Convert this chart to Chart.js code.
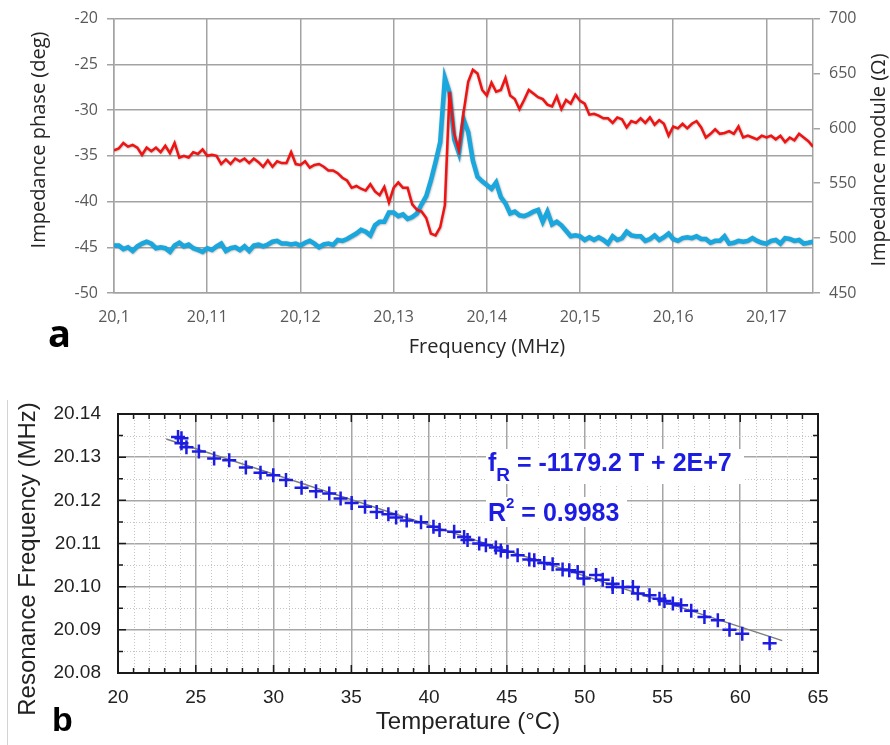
<!DOCTYPE html>
<html>
<head>
<meta charset="utf-8">
<script src="https://cdn.jsdelivr.net/npm/chart.js@4.4.1/dist/chart.umd.min.js"></script>
<style>
  html, body { margin: 0; padding: 0; background: #fff; }
  body { width: 890px; height: 745px; position: relative; overflow: hidden; }
  #chartA { position: absolute; left: 0; top: 0; }
  #chartB { position: absolute; left: 0; top: 375px; }
</style>
</head>
<body>
<canvas id="chartA" width="890" height="375"></canvas>
<canvas id="chartB" width="890" height="370"></canvas>
<script>
// panel a: impedance sweep around resonance
const freqMHz = [
  20.1000, 20.1005, 20.1010, 20.1015, 20.1020, 20.1025, 20.1030, 20.1035, 20.1040, 20.1045,
  20.1050, 20.1055, 20.1060, 20.1065, 20.1070, 20.1075, 20.1080, 20.1085, 20.1090, 20.1095,
  20.1100, 20.1105, 20.1110, 20.1115, 20.1120, 20.1125, 20.1130, 20.1135, 20.1140, 20.1145,
  20.1150, 20.1155, 20.1160, 20.1165, 20.1170, 20.1175, 20.1180, 20.1185, 20.1190, 20.1195,
  20.1200, 20.1205, 20.1210, 20.1215, 20.1220, 20.1225, 20.1230, 20.1235, 20.1240, 20.1245,
  20.1250, 20.1255, 20.1260, 20.1265, 20.1270, 20.1275, 20.1280, 20.1285, 20.1290, 20.1295,
  20.1300, 20.1305, 20.1310, 20.1315, 20.1320, 20.1325, 20.1330, 20.1335, 20.1340, 20.1345,
  20.1350, 20.1355, 20.1360, 20.1365, 20.1370, 20.1375, 20.1380, 20.1385, 20.1390, 20.1395,
  20.1400, 20.1405, 20.1410, 20.1415, 20.1420, 20.1425, 20.1430, 20.1435, 20.1440, 20.1445,
  20.1450, 20.1455, 20.1460, 20.1465, 20.1470, 20.1475, 20.1480, 20.1485, 20.1490, 20.1495,
  20.1500, 20.1505, 20.1510, 20.1515, 20.1520, 20.1525, 20.1530, 20.1535, 20.1540, 20.1545,
  20.1550, 20.1555, 20.1560, 20.1565, 20.1570, 20.1575, 20.1580, 20.1585, 20.1590, 20.1595,
  20.1600, 20.1605, 20.1610, 20.1615, 20.1620, 20.1625, 20.1630, 20.1635, 20.1640, 20.1645,
  20.1650, 20.1655, 20.1660, 20.1665, 20.1670, 20.1675, 20.1680, 20.1685, 20.1690, 20.1695,
  20.1700, 20.1705, 20.1710, 20.1715, 20.1720, 20.1725, 20.1730, 20.1735, 20.1740, 20.1745,
  20.1750
];

const phaseDeg = [
  -34.4, -34.2, -33.6, -34.0, -33.8, -34.1, -34.9, -34.1, -34.5, -34.1,
  -34.6, -33.9, -34.7, -33.6, -35.2, -35.0, -35.2, -34.6, -34.8, -34.3,
  -35.0, -34.9, -35.0, -35.9, -35.4, -35.9, -35.3, -35.6, -35.3, -35.8,
  -35.3, -35.7, -36.2, -35.5, -36.2, -35.6, -35.8, -35.8, -34.6, -35.9,
  -36.0, -35.6, -36.3, -36.0, -35.9, -36.2, -36.6, -36.6, -36.9, -37.4,
  -37.7, -38.5, -38.3, -38.6, -38.8, -38.1, -38.9, -39.3, -38.4, -40.1,
  -38.5, -37.9, -38.5, -38.5, -40.3, -40.9, -41.1, -41.8, -43.5, -43.7,
  -42.8, -40.4, -28.0, -32.6, -34.4, -30.3, -26.9, -25.6, -26.0, -27.8,
  -28.4, -27.0, -28.0, -27.8, -26.5, -28.4, -28.8, -29.9, -28.9, -27.8,
  -28.2, -28.6, -28.8, -29.4, -29.6, -28.5, -29.9, -28.9, -29.3, -28.3,
  -29.0, -29.3, -30.5, -30.4, -30.6, -30.9, -30.9, -31.4, -30.8, -31.0,
  -31.9, -31.2, -31.4, -30.9, -31.4, -30.8, -31.6, -31.1, -31.5, -32.8,
  -31.8, -32.0, -31.5, -32.0, -31.5, -31.2, -31.9, -33.0, -32.6, -32.1,
  -32.6, -32.5, -32.3, -32.6, -31.8, -33.0, -32.8, -33.0, -33.2, -32.8,
  -33.0, -32.8, -33.2, -32.8, -33.5, -33.0, -33.3, -32.6, -33.0, -33.4,
  -34.0
];

const moduleOhm = [
  493.3, 493.3, 490.0, 491.7, 488.3, 492.5, 495.0, 496.7, 495.0, 490.8,
  491.7, 490.8, 487.5, 493.3, 495.8, 492.5, 494.2, 490.8, 489.2, 487.5,
  490.8, 489.2, 492.5, 495.0, 488.3, 490.8, 491.7, 489.2, 492.5, 488.3,
  493.3, 494.2, 492.5, 494.2, 496.7, 497.5, 495.0, 495.0, 494.2, 495.0,
  493.3, 495.8, 497.5, 495.0, 491.7, 494.2, 495.0, 493.8, 498.3, 497.5,
  499.2, 501.7, 504.2, 507.5, 505.8, 502.5, 511.7, 515.0, 515.0, 523.3,
  523.3, 520.0, 521.7, 517.5, 519.2, 522.5, 530.8, 538.3, 552.5, 569.2,
  587.5, 645.8, 632.5, 590.0, 577.5, 608.3, 596.7, 570.8, 555.8, 551.7,
  548.3, 545.0, 550.8, 537.5, 531.7, 522.5, 524.2, 520.8, 520.0, 521.7,
  524.2, 525.8, 515.0, 524.2, 512.5, 515.0, 511.7, 506.7, 501.7, 502.5,
  501.7, 498.3, 500.8, 498.3, 500.8, 498.3, 495.0, 501.7, 498.3, 500.0,
  505.8, 502.5, 501.7, 501.7, 497.5, 499.2, 502.5, 498.3, 500.8, 504.2,
  499.2, 497.5, 500.0, 500.8, 500.0, 501.7, 499.2, 499.2, 495.8, 497.5,
  497.5, 501.7, 495.0, 495.8, 497.5, 496.7, 497.5, 500.0, 497.5, 495.8,
  495.0, 497.5, 498.3, 495.0, 500.0, 499.2, 497.5, 498.3, 495.0, 495.8,
  496.7
];

// panel b: resonance frequency vs temperature
const tempC = [
  23.86, 24.08, 24.08, 24.40, 25.20, 26.18, 27.15, 28.22, 29.16, 29.98,
  30.80, 31.80, 32.73, 33.58, 34.31, 35.02, 35.88, 36.63, 37.38, 37.88,
  38.56, 39.48, 40.28, 40.67, 41.61, 42.25, 42.47, 43.22, 43.65, 44.29,
  44.61, 45.04, 45.69, 46.44, 46.76, 47.40, 47.94, 48.58, 49.01, 49.55,
  49.94, 50.73, 51.16, 51.80, 51.80, 52.45, 53.10, 53.42, 54.17, 54.81,
  55.13, 55.67, 56.20, 56.85, 57.70, 58.56, 59.31, 60.13, 61.89
];
const resFreqMHz = [
  20.1347, 20.1344, 20.1332, 20.1323, 20.1313, 20.1297, 20.1293, 20.1276, 20.1264, 20.1258,
  20.1247, 20.1229, 20.1221, 20.1216, 20.1204, 20.1194, 20.1185, 20.1173, 20.1168, 20.1160,
  20.1153, 20.1149, 20.1139, 20.1131, 20.1127, 20.1115, 20.1108, 20.1100, 20.1096, 20.1091,
  20.1084, 20.1081, 20.1073, 20.1063, 20.1061, 20.1055, 20.1052, 20.1040, 20.1038, 20.1034,
  20.1019, 20.1027, 20.1016, 20.1007, 20.0999, 20.0999, 20.0999, 20.0984, 20.0980, 20.0972,
  20.0967, 20.0961, 20.0957, 20.0944, 20.0930, 20.0922, 20.0900, 20.0891, 20.0869
];
const fitTempC = [23.1, 62.7];
const fitFreqMHz = [20.1342, 20.0875];

const toXY = (xs, ys) => xs.map((x, i) => ({ x: x, y: ys[i] }));

// ---------- panel a ----------
const fontA = '"Open Sans", "Noto Sans", sans-serif';
const gridA = '#a3a3a3';

// soft grey edge under the traces, like the exported spreadsheet chart
const lineShadow = {
  id: 'lineShadow',
  beforeDatasetsDraw(chart) {
    const ctx = chart.ctx;
    ctx.save();
    ctx.shadowColor = 'rgba(60, 60, 60, 0.45)';
    ctx.shadowBlur = 2;
    ctx.shadowOffsetX = 0.5;
    ctx.shadowOffsetY = 0.5;
  },
  afterDatasetsDraw(chart) {
    chart.ctx.restore();
  }
};

const titlesA = {
  id: 'titlesA',
  afterDraw(chart) {
    const ctx = chart.ctx;
    ctx.save();
    ctx.fillStyle = '#262626';
    ctx.font = '20px ' + fontA;
    ctx.textAlign = 'center';
    ctx.textBaseline = 'middle';
    ctx.fillText('Frequency (MHz)', 487, 347);

    ctx.save();
    ctx.translate(39, 140);
    ctx.rotate(-Math.PI / 2);
    ctx.fillText('Impedance phase (deg)', 0, 0);
    ctx.restore();

    ctx.save();
    ctx.translate(879, 160);
    ctx.rotate(-Math.PI / 2);
    ctx.fillText('Impedance module (\u03A9)', 0, 0);
    ctx.restore();

    ctx.fillStyle = '#000';
    ctx.font = 'bold 38px ' + fontA;
    ctx.textAlign = 'left';
    ctx.textBaseline = 'alphabetic';
    ctx.fillText('a', 48, 347);
    ctx.restore();
  }
};

new Chart(document.getElementById('chartA'), {
  type: 'line',
  data: {
    datasets: [
      {
        label: 'Impedance phase',
        data: toXY(freqMHz, phaseDeg),
        yAxisID: 'y',
        borderColor: '#f21212',
        borderWidth: 2.5,
        pointRadius: 0,
        tension: 0
      },
      {
        label: 'Impedance module',
        data: toXY(freqMHz, moduleOhm),
        yAxisID: 'yR',
        borderColor: '#19a7de',
        borderWidth: 4.5,
        pointRadius: 0,
        tension: 0
      }
    ]
  },
  options: {
    responsive: false,
    animation: false,
    events: [],
    layout: { padding: { top: 17, left: 0, right: 0, bottom: 0 } },
    plugins: { legend: { display: false }, tooltip: { enabled: false } },
    scales: {
      x: {
        type: 'linear',
        min: 20.1,
        max: 20.175,
        ticks: {
          stepSize: 0.01,
          includeBounds: false,
          maxRotation: 0,
          autoSkip: false,
          padding: 15,
          color: '#595959',
          font: { family: fontA, size: 16 },
          callback: (v) => String(+v.toFixed(3)).replace('.', ',')
        },
        grid: { color: gridA, lineWidth: 1.5, drawTicks: false },
        border: { color: gridA, width: 1.5 },
        afterFit: (s) => { s.height = 82; }
      },
      y: {
        position: 'left',
        min: -50,
        max: -20,
        ticks: {
          stepSize: 5,
          padding: 9,
          color: '#595959',
          font: { family: fontA, size: 16 }
        },
        grid: { color: gridA, lineWidth: 1.5, tickLength: 7 },
        border: { color: gridA, width: 1.5 },
        afterFit: (s) => { s.width = 114; }
      },
      yR: {
        position: 'right',
        min: 450,
        max: 700,
        ticks: {
          stepSize: 50,
          padding: 9,
          color: '#595959',
          font: { family: fontA, size: 16 }
        },
        grid: { drawOnChartArea: false, color: gridA, lineWidth: 1.5, tickLength: 7 },
        border: { color: gridA, width: 1.5 },
        afterFit: (s) => { s.width = 77; }
      }
    }
  },
  plugins: [lineShadow, titlesA]
});

// ---------- panel b ----------
const fontB = '"Liberation Sans", Arial, sans-serif';
const blueB = '#1c1ce2';

const frameB = {
  id: 'frameB',
  beforeDatasetsDraw(chart) {
    const { ctx, chartArea: a, scales: { x, y } } = chart;
    ctx.save();
    // dotted minor grid
    ctx.strokeStyle = '#c4c4c4';
    ctx.lineWidth = 1;
    ctx.setLineDash([1, 2]);
    ctx.beginPath();
    for (let t = 21; t < 65; t++) {
      if (t % 5 === 0) continue;
      const px = Math.round(x.getPixelForValue(t)) + 0.5;
      ctx.moveTo(px, a.top); ctx.lineTo(px, a.bottom);
    }
    for (let k = 0; k < 6; k++) {
      const py = Math.round(y.getPixelForValue(20.085 + k * 0.01)) + 0.5;
      ctx.moveTo(a.left, py); ctx.lineTo(a.right, py);
    }
    ctx.stroke();
    ctx.setLineDash([]);

    // inward tick marks on all four sides
    ctx.strokeStyle = '#1a1a1a';
    ctx.lineWidth = 1.5;
    ctx.beginPath();
    for (let t = 20; t <= 65; t++) {
      const len = t % 5 === 0 ? 8 : 5;
      const px = x.getPixelForValue(t);
      ctx.moveTo(px, a.bottom); ctx.lineTo(px, a.bottom - len);
      ctx.moveTo(px, a.top); ctx.lineTo(px, a.top + len);
    }
    for (let k = 0; k <= 12; k++) {
      const len = k % 2 === 0 ? 8 : 5;
      const py = y.getPixelForValue(20.08 + k * 0.005);
      ctx.moveTo(a.left, py); ctx.lineTo(a.left + len, py);
      ctx.moveTo(a.right, py); ctx.lineTo(a.right - len, py);
    }
    ctx.stroke();

    ctx.lineWidth = 2;
    ctx.strokeRect(a.left, a.top, a.right - a.left, a.bottom - a.top);

    // faint panel edge on the left
    ctx.strokeStyle = '#d4d4d4';
    ctx.lineWidth = 1;
    ctx.beginPath();
    ctx.moveTo(7.5, 25); ctx.lineTo(7.5, 370);
    ctx.stroke();
    ctx.restore();
  },
  afterDraw(chart) {
    const ctx = chart.ctx;
    ctx.save();
    ctx.fillStyle = '#222';
    ctx.font = '24px ' + fontB;
    ctx.textAlign = 'center';
    ctx.textBaseline = 'middle';
    ctx.fillText('Temperature (\u00B0C)', 468, 347);
    ctx.save();
    ctx.translate(28, 184);
    ctx.rotate(-Math.PI / 2);
    ctx.fillText('Resonance Frequency (MHz)', 0, 0);
    ctx.restore();

    ctx.fillStyle = '#000';
    ctx.font = 'bold 34px ' + fontB;
    ctx.textAlign = 'left';
    ctx.textBaseline = 'alphabetic';
    ctx.fillText('b', 52, 356);

    // fit equation, on white boxes
    ctx.fillStyle = '#fff';
    ctx.fillRect(486, 74, 258, 35);
    ctx.fillRect(486, 122, 141, 30);

    ctx.fillStyle = blueB;
    let cx = 488;
    ctx.font = 'bold 25px ' + fontB;
    ctx.fillText('f', cx, 96);
    cx += ctx.measureText('f').width;
    ctx.font = 'bold 19px ' + fontB;
    ctx.fillText('R', cx, 106);
    cx += ctx.measureText('R').width;
    ctx.font = 'bold 25px ' + fontB;
    ctx.fillText(' = -1179.2 T + 2E+7', cx, 96);

    cx = 488;
    ctx.fillText('R', cx, 146);
    cx += ctx.measureText('R').width;
    ctx.font = 'bold 15px ' + fontB;
    ctx.fillText('2', cx, 133);
    cx += ctx.measureText('2').width;
    ctx.font = 'bold 25px ' + fontB;
    ctx.fillText(' = 0.9983', cx, 146);
    ctx.restore();
  }
};

new Chart(document.getElementById('chartB'), {
  type: 'scatter',
  data: {
    datasets: [
      {
        label: 'Measured',
        data: toXY(tempC, resFreqMHz),
        pointStyle: 'cross',
        pointRadius: 7,
        borderWidth: 2.5,
        borderColor: blueB,
        backgroundColor: blueB
      },
      {
        type: 'line',
        label: 'Linear fit',
        data: toXY(fitTempC, fitFreqMHz),
        borderColor: '#7d7d7d',
        borderWidth: 1.5,
        pointRadius: 0
      }
    ]
  },
  options: {
    responsive: false,
    animation: false,
    events: [],
    layout: { padding: { top: 39, right: 72, left: 0, bottom: 0 } },
    plugins: { legend: { display: false }, tooltip: { enabled: false } },
    scales: {
      x: {
        type: 'linear',
        min: 20,
        max: 65,
        ticks: {
          stepSize: 5,
          maxRotation: 0,
          padding: 13,
          color: '#222',
          font: { family: fontB, size: 19 }
        },
        grid: { color: '#a6a6a6', lineWidth: 1.5, drawTicks: false },
        border: { display: false },
        afterFit: (s) => { s.height = 72; }
      },
      y: {
        min: 20.08,
        max: 20.14,
        ticks: {
          stepSize: 0.01,
          padding: 17,
          color: '#222',
          font: { family: fontB, size: 19 },
          callback: (v) => v.toFixed(2)
        },
        grid: { color: '#a6a6a6', lineWidth: 1.5, drawTicks: false },
        border: { display: false },
        afterFit: (s) => { s.width = 118; }
      }
    }
  },
  plugins: [frameB]
});
</script>
</body>
</html>
